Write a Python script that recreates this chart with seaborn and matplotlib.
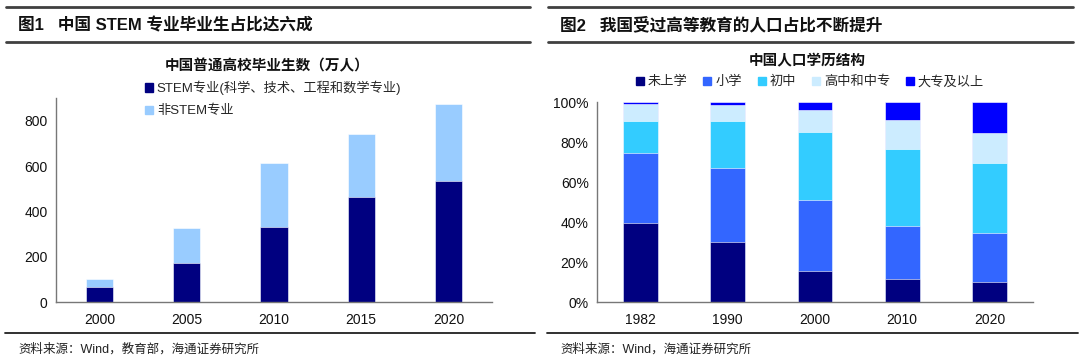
import matplotlib
matplotlib.use("Agg")
import matplotlib.pyplot as plt
from matplotlib.lines import Line2D
from matplotlib.patches import Patch
import seaborn as sns
import pandas as pd
import numpy as np

sns.set_style("white")
plt.rcParams['font.family'] = ['Liberation Sans', 'Noto Sans CJK SC', 'DejaVu Sans']

# ---- data: chart 1 ----
years1 = ["2000", "2005", "2010", "2015", "2020"]
stem = [66, 171, 331, 462, 536]
non_stem = [36, 157, 283, 279, 337]

# ---- data: chart 2 ----
years2 = ["1982", "1990", "2000", "2010", "2020"]
edu_levels = ["未上学", "小学", "初中", "高中和中专", "大专及以上"]
no_school = [39.3, 30.1, 15.5, 11.3, 10.1]
primary = [35.2, 36.8, 35.6, 26.6, 24.5]
junior = [15.8, 23.4, 33.9, 38.8, 34.8]
senior = [8.7, 8.0, 11.2, 14.1, 15.0]
college = [1.0, 1.7, 3.8, 9.2, 15.6]

W, H = 1080, 361
fig = plt.figure(figsize=(W / 100, H / 100), dpi=100)

def fx(px):
    return px / W

def fy(py):
    return 1 - py / H

# header / footer lines
for (x0, x1) in [(6, 530), (548, 1073)]:
    for y in (7, 42):
        fig.add_artist(Line2D([fx(x0), fx(x1)], [fy(y), fy(y)], color="#404040", lw=2))
    fig.add_artist(Line2D([fx(x0 - 1), fx(x1 + 5)], [fy(333), fy(333)], color="#202020", lw=1.3))

fig.text(fx(18), fy(25), "图1   中国 STEM 专业毕业生占比达六成", fontsize=12, fontweight="bold",
         va="center", ha="left", color="#111111")
fig.text(fx(560), fy(25), "图2   我国受过高等教育的人口占比不断提升", fontsize=12, fontweight="bold",
         va="center", ha="left", color="#111111")
fig.text(fx(18), fy(349), "资料来源：Wind，教育部，海通证券研究所", fontsize=9, va="center", ha="left", color="#222222")
fig.text(fx(560), fy(349), "资料来源：Wind，海通证券研究所", fontsize=9, va="center", ha="left", color="#222222")

def style_axis(ax):
    sns.despine(ax=ax)
    for s in ("left", "bottom"):
        ax.spines[s].set_color("#777777")
        ax.spines[s].set_linewidth(1.0)
    ax.tick_params(axis="y", length=0, labelsize=10, pad=6, colors="#111111")
    ax.tick_params(axis="x", length=0, labelsize=10, pad=8, colors="#111111")
    n = len(ax.get_xticks())
    ax.set_xticks(np.arange(-0.5, n, 1.0), minor=True)
    ax.tick_params(axis="x", which="minor", length=4, color="#777777", width=1)
    ax.set_xlim(-0.5, n - 0.5)
    ax.set_xlabel("")
    ax.set_ylabel("")

# ---- chart 1 ----
ax1 = fig.add_axes([fx(56), fy(302), fx(492 - 56), (302 - 98) / H])
df1 = pd.DataFrame({"year": years1, "stem": stem, "non": non_stem})
df1["total"] = df1["stem"] + df1["non"]
c_stem, c_non = "#000080", "#99CCFF"
sns.barplot(data=df1, x="year", y="total", color=c_non, width=0.31, ax=ax1,
            saturation=1, edgecolor="white", linewidth=0.4)
sns.barplot(data=df1, x="year", y="stem", color=c_stem, width=0.31, ax=ax1,
            saturation=1, edgecolor="white", linewidth=0.4)
ax1.set_ylim(0, 900)
ax1.set_yticks([0, 200, 400, 600, 800])
style_axis(ax1)
fig.text(fx(267), fy(66), "中国普通高校毕业生数（万人）", fontsize=10.5, fontweight="bold",
         ha="center", va="center", color="#111111")
h1 = [Patch(color=c_stem), Patch(color=c_non)]
ax1.legend(h1, ["STEM专业(科学、技术、工程和数学专业)", "非STEM专业"], loc="upper left",
           bbox_to_anchor=(fx(145 - 56) / fx(492 - 56), 1.085), frameon=False, fontsize=9.5,
           handlelength=0.6, handleheight=0.6, handletextpad=0.3, labelspacing=0.75,
           borderaxespad=0, borderpad=0)

# ---- chart 2 ----
ax2 = fig.add_axes([fx(597), fy(302), fx(1033 - 597), (302 - 102) / H])
series = [no_school, primary, junior, senior, college]
colors2 = ["#000080", "#3366FF", "#33CCFF", "#CCECFF", "#0000FF"]
cum = np.cumsum(np.array(series), axis=0)
for i in range(len(series) - 1, -1, -1):
    d = pd.DataFrame({"year": years2, "v": cum[i] / 100.0})
    sns.barplot(data=d, x="year", y="v", color=colors2[i], width=0.40, ax=ax2,
                saturation=1, edgecolor="white", linewidth=0.4)
ax2.set_ylim(0, 1.0)
ax2.set_yticks([0, 0.2, 0.4, 0.6, 0.8, 1.0])
ax2.set_yticklabels(["0%", "20%", "40%", "60%", "80%", "100%"])
style_axis(ax2)
fig.text(fx(807), fy(61), "中国人口学历结构", fontsize=10.5, fontweight="bold",
         ha="center", va="center", color="#111111")
h2 = [Patch(color=c) for c in colors2]
fig.legend(h2, edu_levels, loc="center", bbox_to_anchor=(fx(810), fy(82)), ncol=5,
           frameon=False, fontsize=9.5, handlelength=0.6, handleheight=0.6,
           handletextpad=0.3, columnspacing=1.2, borderaxespad=0, borderpad=0)

fig.savefig("out.png", dpi=100)
